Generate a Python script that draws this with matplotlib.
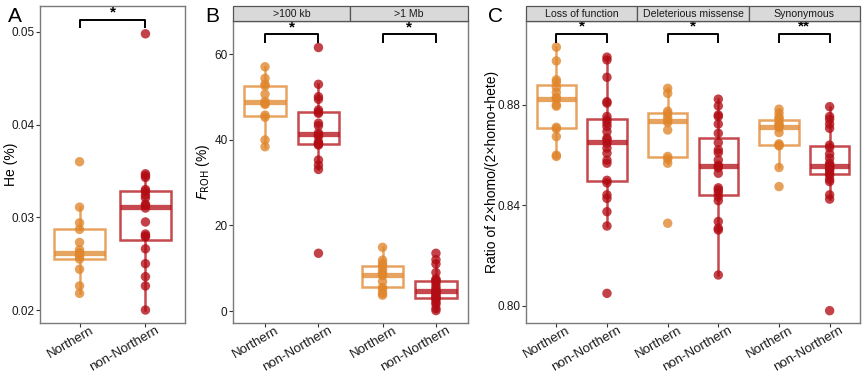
import numpy as np
import matplotlib
matplotlib.use("Agg")
import matplotlib.pyplot as plt
from matplotlib.patches import Rectangle
from matplotlib.transforms import ScaledTranslation

plt.rcParams['font.family'] = ['Liberation Sans', 'DejaVu Sans']

groups = ["Northern", "non-Northern"]

# panel A: heterozygosity (%)
he_north = [0.0360, 0.0311, 0.0294, 0.0287, 0.0273, 0.0265, 0.0262, 0.0260,
            0.0258, 0.0255, 0.0244, 0.0226, 0.0218]
he_non = [0.0498, 0.0347, 0.0345, 0.0343, 0.0330, 0.0328, 0.0324, 0.0321,
          0.0314, 0.0313, 0.0310, 0.0295, 0.0282, 0.0280, 0.0279, 0.0266,
          0.0250, 0.0236, 0.0226, 0.0200]

# panel B: FROH (%)
froh_facets = [">100 kb", ">1 Mb"]
froh_100kb_north = [57.1, 54.4, 53.0, 52.6, 50.7, 49.0, 48.5, 48.3, 45.8,
                    45.3, 40.0, 38.4]
froh_100kb_non = [61.6, 53.0, 50.1, 49.5, 47.0, 46.5, 46.2, 43.9, 43.3, 41.6,
                  41.2, 40.8, 39.5, 39.2, 39.0, 38.8, 35.3, 34.1, 33.1, 13.5]
froh_1mb_north = [14.9, 11.9, 11.1, 10.6, 9.8, 9.0, 8.5, 8.3, 6.9, 5.5, 5.0,
                  4.1, 3.7]
froh_1mb_non = [13.5, 12.0, 11.0, 9.0, 7.5, 7.2, 7.0, 6.5, 5.8, 5.2, 4.8, 4.6,
                4.5, 4.1, 3.8, 3.4, 3.1, 3.0, 2.6, 2.0, 1.6, 0.6, 0.1]

# panel C: ratio of 2*homo/(2*homo+hete)
ratio_facets = ["Loss of function", "Deleterious missense", "Synonymous"]
lof_north = [0.9030, 0.8975, 0.8900, 0.8890, 0.8870, 0.8850, 0.8830, 0.8823,
             0.8800, 0.8795, 0.8711, 0.8705, 0.8674, 0.8600, 0.8595]
lof_non = [0.8990, 0.8979, 0.8910, 0.8813, 0.8807, 0.8754, 0.8740, 0.8727,
           0.8714, 0.8694, 0.8668, 0.8661, 0.8647, 0.8628, 0.8608, 0.8580,
           0.8568, 0.8500, 0.8490, 0.8442, 0.8428, 0.8375, 0.8318, 0.8050]
del_north = [0.8866, 0.8846, 0.8775, 0.8765, 0.8750, 0.8738, 0.8730, 0.8700,
             0.8595, 0.8585, 0.8568, 0.8329]
del_non = [0.8823, 0.8796, 0.8760, 0.8754, 0.8724, 0.8687, 0.8650, 0.8621,
           0.8610, 0.8581, 0.8560, 0.8555, 0.8550, 0.8528, 0.8470, 0.8462,
           0.8451, 0.8435, 0.8419, 0.8336, 0.8309, 0.8302, 0.8123]
syn_north = [0.8783, 0.8767, 0.8751, 0.8745, 0.8730, 0.8720, 0.8716, 0.8710,
             0.8690, 0.8645, 0.8640, 0.8637, 0.8551, 0.8475]
syn_non = [0.8793, 0.8754, 0.8743, 0.8724, 0.8707, 0.8640, 0.8630, 0.8605,
           0.8588, 0.8568, 0.8560, 0.8557, 0.8555, 0.8550, 0.8545, 0.8539,
           0.8528, 0.8520, 0.8504, 0.8495, 0.8442, 0.8425, 0.7981]

stars_A = ["*"]
stars_B = ["*", "*"]
stars_C = ["*", "*", "**"]

col_north = "#E0862C"
col_non = "#B20C14"
spine_col = "#7a7a7a"

W, H = 865, 377
fig = plt.figure(figsize=(W / 100, H / 100), dpi=100)


def px_axes(left, right, top, bottom):
    return fig.add_axes([left / W, 1 - bottom / H, (right - left) / W, (bottom - top) / H])


def style_axes(ax):
    for s in ax.spines.values():
        s.set_color(spine_col)
        s.set_linewidth(1.0)
    ax.tick_params(axis='both', colors='#333333', length=3, width=0.8)
    ax.tick_params(axis='y', labelsize=8.5, labelcolor='#1a1a1a', pad=1)
    ax.tick_params(axis='x', labelsize=9.5, labelcolor='#1a1a1a', pad=1)


def draw_group(ax, pos, vals, col):
    ax.boxplot([vals], positions=[pos], widths=0.78, showfliers=False,
               patch_artist=True, manage_ticks=False,
               boxprops=dict(facecolor='none', edgecolor=col, linewidth=1.8, alpha=0.75),
               whiskerprops=dict(color=col, linewidth=1.8, alpha=0.75),
               capprops=dict(linewidth=0),
               medianprops=dict(color=col, linewidth=3.8, alpha=0.75),
               zorder=2)
    ax.scatter(np.full(len(vals), pos), vals, s=46, color=col, alpha=0.78,
               edgecolors='none', zorder=3)


def bracket(ax, x1, x2, y_top, y_end, text):
    ax.plot([x1, x1, x2, x2], [y_end, y_top, y_top, y_end], color='black',
            lw=1.4, solid_capstyle='butt', zorder=4)
    ax.text((x1 + x2) / 2, y_top, text, ha='center', va='bottom', fontsize=11,
            fontweight='bold')


def strip(left, right, labels):
    sax = px_axes(left, right, 6, 21)
    sax.set_xlim(0, len(labels))
    sax.set_ylim(0, 1)
    sax.axis('off')
    for i, lab in enumerate(labels):
        sax.add_patch(Rectangle((i, 0), 1, 1, facecolor='#d9d9d9', edgecolor='#555555',
                                lw=0.9, clip_on=False))
        sax.text(i + 0.5, 0.48, lab, ha='center', va='center', fontsize=7.6,
                 color='#1a1a1a')


def xlabels(ax, positions):
    ax.set_xticks(positions)
    ax.set_xticklabels(groups * (len(positions) // 2), rotation=30, ha='right',
                       va='top', rotation_mode='anchor')
    shift = ScaledTranslation(10 / 100, 4 / 100, fig.dpi_scale_trans)
    for lab in ax.get_xticklabels():
        lab.set_transform(lab.get_transform() + shift)


# ---- panel A
axA = px_axes(40, 185, 6, 323)
style_axes(axA)
draw_group(axA, 1, he_north, col_north)
draw_group(axA, 2, he_non, col_non)
axA.set_xlim(0.4, 2.6)
axA.set_ylim(0.0186, 0.0528)
axA.set_yticks([0.02, 0.03, 0.04, 0.05])
axA.set_yticklabels(["0.02", "0.03", "0.04", "0.05"])
xlabels(axA, [1, 2])
axA.set_ylabel("He (%)", fontsize=10)
axA.yaxis.set_label_coords((18 - 40) / 145, 0.5)
bracket(axA, 1, 2, 0.0513, 0.0504, stars_A[0])
fig.text(8 / W, 1 - 16 / H, "A", fontsize=15, va='center', ha='left')

# ---- panel B
axB = px_axes(233, 468, 21, 323)
style_axes(axB)
posB = [1, 2, 3.2, 4.2]
for p, v, c in zip(posB, [froh_100kb_north, froh_100kb_non, froh_1mb_north, froh_1mb_non],
                   [col_north, col_non, col_north, col_non]):
    draw_group(axB, p, v, c)
axB.set_xlim(0.4, 4.8)
axB.set_ylim(-2.8, 67.8)
axB.set_yticks([0, 20, 40, 60])
xlabels(axB, posB)
axB.set_ylabel(r"$F_{\mathrm{ROH}}$ (%)", fontsize=10)
axB.yaxis.set_label_coords((212 - 233) / 235, 0.5)
for k, s in enumerate(stars_B):
    bracket(axB, posB[2 * k], posB[2 * k + 1], 64.7, 62.7, s)
strip(233, 468, froh_facets)
fig.text(205 / W, 1 - 16 / H, "B", fontsize=15, va='center', ha='left')

# ---- panel C
axC = px_axes(526, 860, 21, 323)
style_axes(axC)
posC = [1, 2, 3.2, 4.2, 5.4, 6.4]
for p, v, c in zip(posC, [lof_north, lof_non, del_north, del_non, syn_north, syn_non],
                   [col_north, col_non] * 3):
    draw_group(axC, p, v, c)
axC.set_xlim(0.4, 7.0)
axC.set_ylim(0.7932, 0.9134)
axC.set_yticks([0.80, 0.84, 0.88])
axC.set_yticklabels(["0.80", "0.84", "0.88"])
xlabels(axC, posC)
axC.set_ylabel("Ratio of 2×homo/(2×homo+hete)", fontsize=10)
axC.yaxis.set_label_coords((499 - 526) / 334, 0.5)
for k, s in enumerate(stars_C):
    bracket(axC, posC[2 * k], posC[2 * k + 1], 0.9083, 0.9048, s)
strip(526, 860, ratio_facets)
fig.text(488 / W, 1 - 16 / H, "C", fontsize=15, va='center', ha='left')

fig.savefig("out.png", dpi=100)
